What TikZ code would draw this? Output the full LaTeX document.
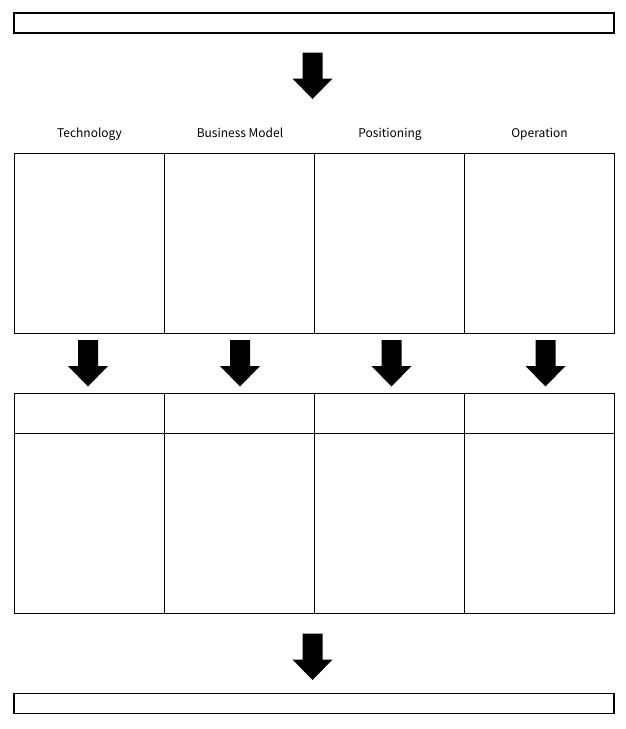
\documentclass[tikz,border=0pt]{standalone}
\usepackage{fontspec}
\setmainfont{Noto Sans CJK JP}
\begin{document}
\begin{tikzpicture}[x=1pt,y=-1pt,
  cell/.style={draw=black,line width=1pt},
  bar/.style={draw=black},
  lab/.style={font=\fontsize{12}{14}\selectfont,anchor=base,inner sep=0pt},
  blk/.style={fill=black,draw=none}]
\useasboundingbox (0,0) rectangle (625,729);
% top bar
\draw[bar,line width=2pt] (14,12.5) rectangle (614,32.5);
% block arrow macro
\newcommand\blkarrow[2]{\fill[blk] (#1-10,#2) -- (#1+10,#2) -- (#1+10,#2+26) -- (#1+20,#2+26) -- (#1,#2+46.5) -- (#1-20,#2+26) -- (#1-10,#2+26) -- cycle;}
\blkarrow{312.5}{52.5}
% labels
\node[lab] (t1) at (89.5,137.5) {Technology};
\node[lab] (t2) at (240,137.5) {Business Model};
\node[lab] (t3) at (390,137.5) {Positioning};
\node[lab] (t4) at (539.5,137.5) {Operation};
% upper grid
\foreach \x in {14,164,314,464}{
  \draw[cell] (\x,153.5) rectangle (\x+150,333.5);
}
% middle arrows
\blkarrow{88}{340}
\blkarrow{240}{340}
\blkarrow{391.5}{340}
\blkarrow{545.5}{340}
% lower grid
\foreach \x in {14,164,314,464}{
  \draw[cell] (\x,393.5) rectangle (\x+150,433.5);
  \draw[cell] (\x,433.5) rectangle (\x+150,613.5);
}
% bottom arrow
\blkarrow{312.5}{633.5}
% bottom bar
\draw[bar,line width=1.4pt] (14,693.5) rectangle (614,713.5);
\end{tikzpicture}
\end{document}
